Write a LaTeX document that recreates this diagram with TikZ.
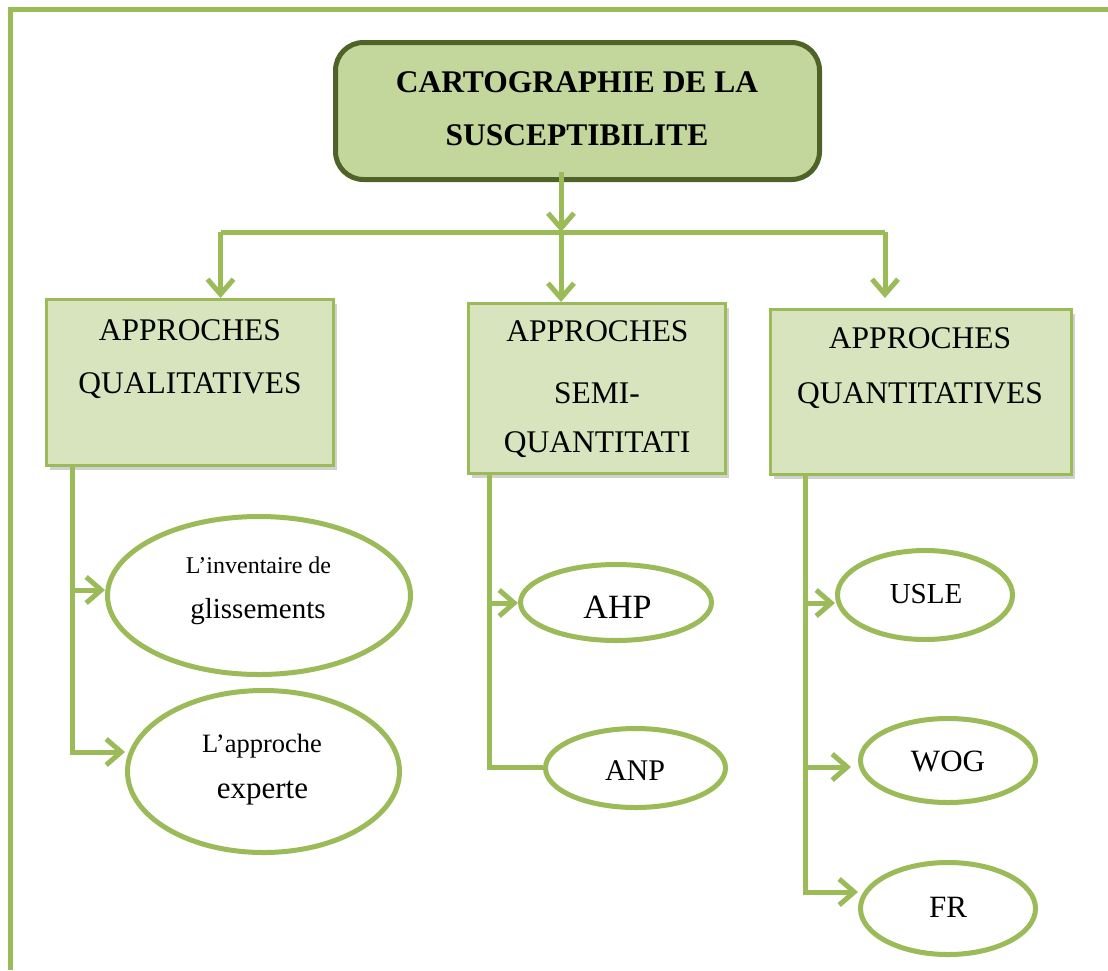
\documentclass[tikz,border=0pt]{standalone}
\usepackage{fontspec}
\setmainfont{Liberation Serif}
\usetikzlibrary{arrows.meta,shapes.geometric,shadows,calc}
\definecolor{lg}{HTML}{9BBB59}
\definecolor{boxfill}{HTML}{D7E4BD}
\definecolor{topfill}{HTML}{C3D69B}
\definecolor{dg}{HTML}{4F6228}
\newcommand\fsz[1]{\fontsize{#1}{#1}\selectfont}
\begin{document}
\begin{tikzpicture}[x=1pt,y=-1pt,
  conn/.style={draw=lg,line width=5pt},
  tip/.style={-{Straight Barb[length=15pt,width=26pt]}},
  topbox/.style={draw=dg,fill=topfill,line width=5pt,rounded corners=28pt,inner sep=0pt},
  catbox/.style={draw=lg,fill=boxfill,line width=3pt,inner sep=0pt,
    drop shadow={shadow xshift=3pt,shadow yshift=-4pt,opacity=0.3,fill=black!60}},
  ell/.style={ellipse,draw=lg,line width=5pt,fill=white,inner sep=0pt},
  lbl/.style={anchor=base,inner sep=0pt}
]
\useasboundingbox (0,0) rectangle (1108,970);
% outer frame
\draw[lg,line width=5pt] (1108,9.5) -- (10.5,9.5) -- (10.5,970);

% named coordinates
\coordinate (hub) at (561,232);
\coordinate (jl) at (220.5,232);
\coordinate (jr) at (885,232);
\coordinate (la) at (72,590);
\coordinate (lb) at (72,752);
\coordinate (ma) at (489,603);
\coordinate (mb) at (489,767);
\coordinate (ra) at (805,603);
\coordinate (rb) at (805,767);
\coordinate (rc) at (805,892);

% boxes
\node[topbox,minimum width=484pt,minimum height=137pt] (top) at (577.5,111) {};
\node[catbox,minimum width=287pt,minimum height=166pt] (lbox) at (190,382.5) {};
\node[catbox,minimum width=257pt,minimum height=170pt] (mbox) at (597,388.5) {};
\node[catbox,minimum width=301pt,minimum height=165pt] (rbox) at (921,392) {};

% ellipses
\node[ell,minimum width=303pt,minimum height=158pt] (e1) at (259,595.5) {};
\node[ell,minimum width=272pt,minimum height=162pt] (e2) at (263.5,771.5) {};
\node[ell,minimum width=191pt,minimum height=76pt] (ahp) at (616,602.5) {};
\node[ell,minimum width=180pt,minimum height=79pt] (anp) at (635.5,768) {};
\node[ell,minimum width=175pt,minimum height=89pt] (usle) at (925,595) {};
\node[ell,minimum width=175pt,minimum height=84pt] (wog) at (948,760.5) {};
\node[ell,minimum width=175pt,minimum height=92pt] (fr) at (948,908.5) {};

% connectors
\draw[conn,tip] ($(top.south -| hub)+(0,-10)$) -- (hub);
\draw[conn] (jl) -- (jr);
\draw[conn,tip] (jl) -- (jl |- lbox.north);
\draw[conn,tip] (hub) -- (hub |- mbox.north);
\draw[conn,tip] (jr) -- ($(jr |- rbox.north)+(0,-10)$);

\draw[conn,tip] (lbox.south -| lb) -- (lb) -- (lb -| e2.west);
\draw[conn,tip] (la) -- (la -| e1.west);

\draw[conn] (mbox.south -| mb) -- (mb) -- (mb -| anp.west);
\draw[conn,tip] (ma) -- (ma -| ahp.west);

\draw[conn,tip] (rbox.south -| rc) -- (rc) -- (rc -| fr.west);
\draw[conn,tip] (ra) -- (ra -| usle.west);
\draw[conn,tip] (rb) -- ($(rb -| wog.west)+(-7,0)$);

% texts
\node[lbl,font=\fsz{31.5}\bfseries] (t1) at (577,92) {CARTOGRAPHIE DE LA};
\node[lbl,font=\fsz{31.5}\bfseries] (t2) at (577,145) {SUSCEPTIBILITE};

\node[lbl,font=\fsz{31.5}] (l1) at (190,340) {APPROCHES};
\node[lbl,font=\fsz{31.5}] (l2) at (190,393) {QUALITATIVES};

\node[lbl,font=\fsz{31.5}] (m1) at (597.5,341) {APPROCHES};
\node[lbl,font=\fsz{31.5}] (m2) at (597,403) {SEMI-};
\node[lbl,font=\fsz{31.5}] (m3) at (597,452) {QUANTITATI};

\node[lbl,font=\fsz{31.5}] (r1) at (920,348) {APPROCHES};
\node[lbl,font=\fsz{31.5}] (r2) at (920,403) {QUANTITATIVES};

\node[lbl,font=\fsz{24}] (e1a) at (258.5,573) {L’inventaire de};
\node[lbl,font=\fsz{29}] (e1b) at (258,618) {glissements};
\node[lbl,font=\fsz{26.5}] (e2a) at (262,752) {L’approche};
\node[lbl,font=\fsz{31}] (e2b) at (262.5,798) {experte};
\node[lbl,font=\fsz{34}] (ahpt) at (617.5,618) {AHP};
\node[lbl,font=\fsz{30}] (anpt) at (635,780) {ANP};
\node[lbl,font=\fsz{29}] (uslet) at (926,603) {USLE};
\node[lbl,font=\fsz{31}] (wogt) at (948,771) {WOG};
\node[lbl,font=\fsz{31}] (frt) at (948,917) {FR};
\end{tikzpicture}
\end{document}
